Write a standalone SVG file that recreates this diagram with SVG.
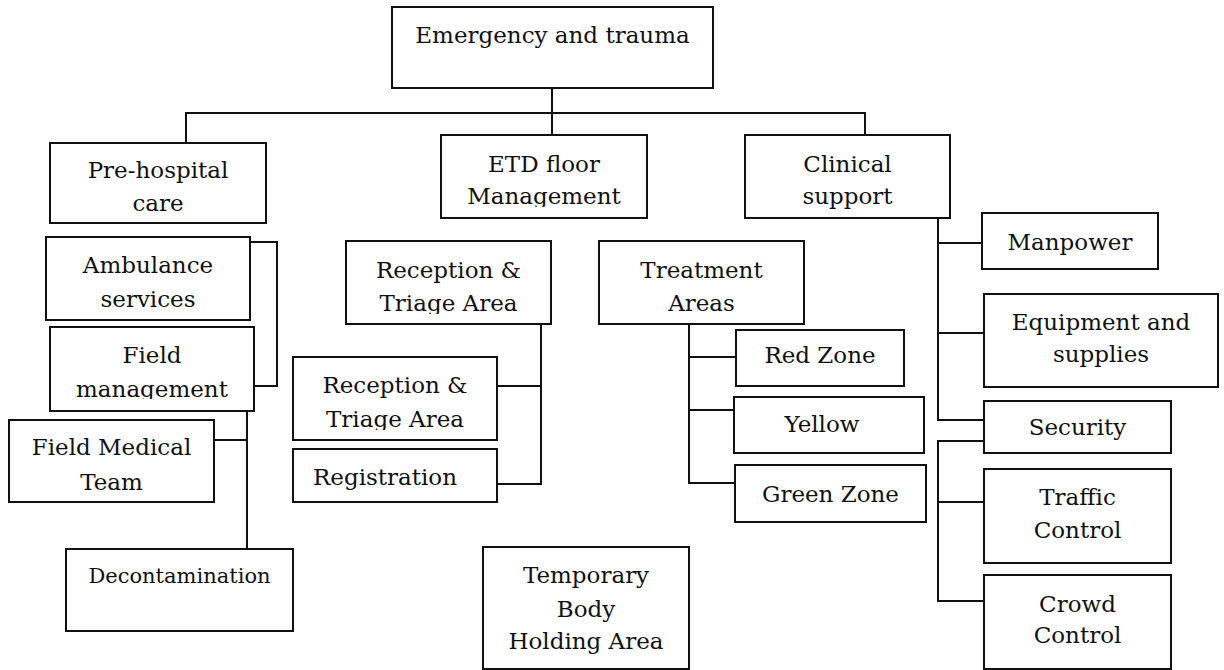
<svg xmlns="http://www.w3.org/2000/svg" width="1224" height="670" viewBox="0 0 1224 670">
<style>
.box{fill:#fff;stroke:#111;stroke-width:2}
.t{font-family:"DejaVu Serif","Liberation Serif",serif;font-size:23px;fill:#111;text-anchor:middle}
.s{font-size:21px}
.c{fill:none;stroke:#111;stroke-width:2}
</style>
<defs>
<clipPath id="cEtd"><rect x="441" y="135" width="206" height="72"/></clipPath>
<clipPath id="cRec1"><rect x="346" y="241" width="205" height="73"/></clipPath>
<clipPath id="cFm"><rect x="50" y="327" width="204" height="72"/></clipPath>
<clipPath id="cRec2"><rect x="293" y="357" width="204" height="73"/></clipPath>
</defs>
<rect width="1224" height="670" fill="#fff"/>
<g id="connectors" class="c">
<path d="M552 88V135"/>
<path d="M186 143V113H865V135"/>
<path d="M250 242H277V386H254"/>
<path d="M247 411V549M214 440H247"/>
<path d="M541 324V484H497M497 386H541"/>
<path d="M689 324V483H735M689 357H736M689 410H734"/>
<path d="M938 218V420H984M938 243H982M938 333H984"/>
<path d="M984 441H938V601H984M938 502H984"/>
</g>
<g id="emergency"><rect class="box" x="392" y="7" width="321" height="81"/><text class="t" x="552.5" y="43">Emergency and trauma</text></g>
<g id="prehospital"><rect class="box" x="50" y="143" width="216" height="80"/><text class="t" x="158" y="178">Pre-hospital</text><text class="t" x="158" y="211">care</text></g>
<g id="etd"><rect class="box" x="441" y="135" width="206" height="83"/><g clip-path="url(#cEtd)"><text class="t" x="544" y="172">ETD floor</text><text class="t" x="544" y="204">Management</text></g></g>
<g id="clinical"><rect class="box" x="745" y="135" width="205" height="83"/><text class="t" x="847.5" y="172">Clinical</text><text class="t" x="847.5" y="204">support</text></g>
<g id="ambulance"><rect class="box" x="46" y="237" width="204" height="83"/><text class="t" x="148" y="273">Ambulance</text><text class="t" x="148" y="307">services</text></g>
<g id="fieldmanagement"><rect class="box" x="50" y="327" width="204" height="84"/><g clip-path="url(#cFm)"><text class="t" x="152" y="363">Field</text><text class="t" x="152" y="397">management</text></g></g>
<g id="fieldmedical"><rect class="box" x="9" y="420" width="205" height="82"/><text class="t" x="111.5" y="455">Field Medical</text><text class="t" x="111.5" y="490">Team</text></g>
<g id="decontamination"><rect class="box" x="66" y="549" width="227" height="82"/><text class="t s" x="179.5" y="583">Decontamination</text></g>
<g id="reception1"><rect class="box" x="346" y="241" width="205" height="83"/><g clip-path="url(#cRec1)"><text class="t" x="448.5" y="278">Reception &amp;</text><text class="t" x="448.5" y="311">Triage Area</text></g></g>
<g id="reception2"><rect class="box" x="293" y="357" width="204" height="83"/><g clip-path="url(#cRec2)"><text class="t" x="395" y="393">Reception &amp;</text><text class="t" x="395" y="427">Triage Area</text></g></g>
<g id="registration"><rect class="box" x="293" y="449" width="204" height="53"/><text class="t" x="385" y="485">Registration</text></g>
<g id="treatment"><rect class="box" x="599" y="241" width="205" height="83"/><text class="t" x="701.5" y="278">Treatment</text><text class="t" x="701.5" y="311">Areas</text></g>
<g id="redzone"><rect class="box" x="736" y="330" width="168" height="56"/><text class="t" x="820" y="363">Red Zone</text></g>
<g id="yellow"><rect class="box" x="734" y="397" width="190" height="56"/><text class="t" x="822" y="432">Yellow</text></g>
<g id="greenzone"><rect class="box" x="735" y="465" width="191" height="57"/><text class="t" x="830.5" y="502">Green Zone</text></g>
<g id="temporary"><rect class="box" x="483" y="547" width="206" height="122"/><text class="t" x="586" y="583">Temporary</text><text class="t" x="586" y="617">Body</text><text class="t" x="586" y="649">Holding Area</text></g>
<g id="manpower"><rect class="box" x="982" y="213" width="176" height="56"/><text class="t" x="1070" y="250">Manpower</text></g>
<g id="equipment"><rect class="box" x="984" y="294" width="234" height="93"/><text class="t" x="1101" y="330">Equipment and</text><text class="t" x="1101" y="362">supplies</text></g>
<g id="security"><rect class="box" x="984" y="401" width="187" height="52"/><text class="t" x="1077.5" y="435">Security</text></g>
<g id="traffic"><rect class="box" x="984" y="469" width="187" height="94"/><text class="t" x="1077.5" y="505">Traffic</text><text class="t" x="1077.5" y="538">Control</text></g>
<g id="crowd"><rect class="box" x="984" y="575" width="187" height="94"/><text class="t" x="1077.5" y="612">Crowd</text><text class="t" x="1077.5" y="643">Control</text></g>
</svg>
